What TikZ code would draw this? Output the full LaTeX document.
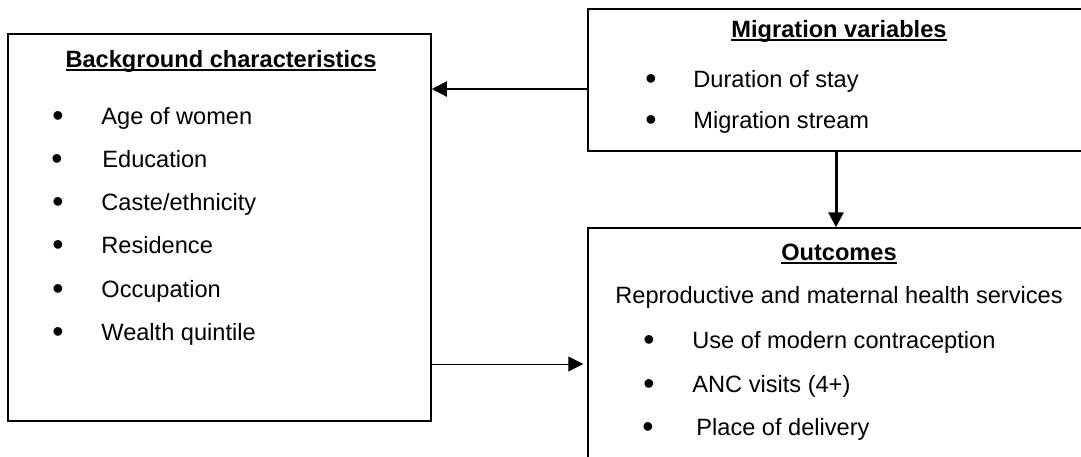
\documentclass[tikz,border=0pt]{standalone}
\usepackage{fontspec}
\setmainfont{Liberation Sans}
\usetikzlibrary{arrows.meta}

\newcommand{\ulbold}[1]{\setbox0\hbox{\bfseries #1}\rlap{\rule[-2pt]{\wd0}{0.8pt}}\box0}

\begin{document}
\begin{tikzpicture}[x=0.5pt,y=-0.5pt,
box/.style={draw,line width=0.75pt,inner sep=0pt},
head/.style={font=\fontsize{11.8pt}{14pt}\selectfont,inner sep=0pt,anchor=base},
item/.style={font=\fontsize{11.8pt}{14pt}\selectfont,inner sep=0pt,anchor=base west},
bul/.style={font=\fontsize{16pt}{18pt}\selectfont,inner sep=0pt,anchor=base,yshift=-1pt},
arrow/.style={-{Triangle[length=7.5pt,width=7.5pt]},line width=1pt},
thickarrow/.style={-{Triangle[length=7.5pt,width=7.5pt]},line width=1.5pt},
thinarrow/.style={-{Triangle[length=7.5pt,width=7.5pt]},line width=0.5pt}]

\useasboundingbox (0,0) rectangle (1081,456);
\clip (0,0) rectangle (1081,456);

\node[box,minimum width=211.5pt,minimum height=193.5pt] (bg) at (219.5,227.5) {};

\node[box,minimum width=253.5pt,minimum height=71pt] (mig) at (841.5,80) {};

\node[box,minimum width=253.5pt,minimum height=126pt] (out) at (841.5,354) {};

% background characteristics
\node[head] (bgt) at (221,67) {\ulbold{Background characteristics}};

\node[bul] (bgb1) at (58,124) {•};
\node[item] (bg1) at (101,124) {Age of women};

\node[bul] (bgb2) at (57,167) {•};
\node[item] (bg2) at (102,167) {Education};

\node[bul] (bgb3) at (58,210) {•};
\node[item] (bg3) at (101,210) {Caste/ethnicity};

\node[bul] (bgb4) at (58,253) {•};
\node[item] (bg4) at (101,253) {Residence};

\node[bul] (bgb5) at (58,297) {•};
\node[item] (bg5) at (101,297) {Occupation};

\node[bul] (bgb6) at (58,340) {•};
\node[item] (bg6) at (101,340) {Wealth quintile};

% migration variables
\node[head] (migt) at (839,37) {\ulbold{Migration variables}};

\node[bul] (migb1) at (651,87) {•};
\node[item] (mig1) at (693,87) {Duration of stay};

\node[bul] (migb2) at (651,128) {•};
\node[item] (mig2) at (693,128) {Migration stream};

% outcomes
\node[head] (outt) at (839,260) {\ulbold{Outcomes}};

\node[head] (outs) at (839,303) {Reproductive and maternal health services};

\node[bul] (outb1) at (649,348) {•};
\node[item] (out1) at (692,348) {Use of modern contraception};

\node[bul] (outb2) at (649,392) {•};
\node[item] (out2) at (692,392) {ANC visits (4+)};

\node[bul] (outb3) at (648,435) {•};
\node[item] (out3) at (696,435) {Place of delivery};

\coordinate (a1) at (0,89);
\coordinate (a2) at (836,0);
\coordinate (a3) at (0,364);

\draw[arrow] (mig.west |- a1) -- (bg.east |- a1);

\draw[thickarrow] (mig.south -| a2) -- (out.north -| a2);

\draw[thinarrow] (bg.east |- a3) -- ([xshift=-2pt]out.west |- a3);

\end{tikzpicture}
\end{document}
